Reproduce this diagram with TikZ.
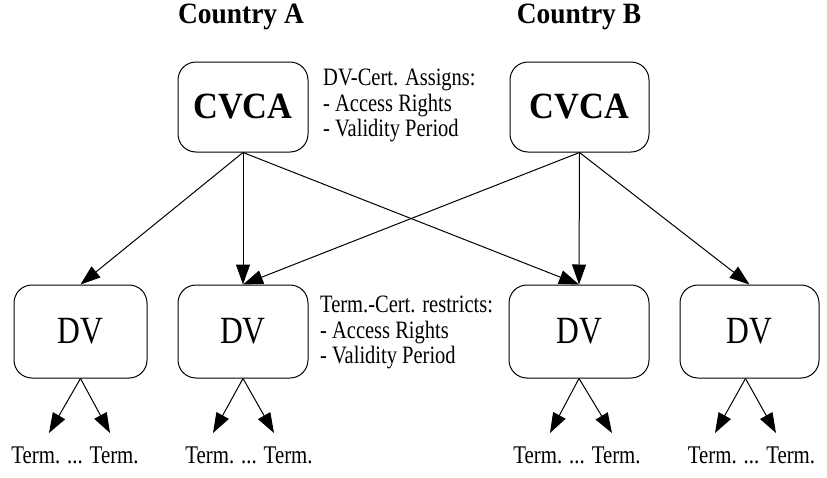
\documentclass[tikz,border=0pt]{standalone}
\usepackage{fontspec}
\setmainfont{Liberation Serif}[FakeStretch=0.82]
\newfontfamily\boldfam{Liberation Serif Bold}[FakeStretch=0.93]
\usetikzlibrary{arrows.meta}
\begin{document}
\begin{tikzpicture}[x=1pt,y=-1pt,
  box/.style={draw,line width=1pt,rounded corners=18pt,inner sep=0pt,minimum height=#1},
  bigbold/.style={font=\boldfam\fontsize{37}{37}\selectfont},
  dvfont/.style={font=\fontsize{38.5}{38.5}\selectfont},
  countryfont/.style={font=\boldfam\fontsize{29.5}{30}\selectfont},
  labelfont/.style={font=\fontsize{25}{25.5}\selectfont},
  termfont/.style={font=\fontsize{25.4}{25.5}\selectfont},
  arr/.style={line width=1pt,-{Triangle[length=20pt,width=14pt]}},
]
\useasboundingbox (0,0) rectangle (827,477);
\fill[white] (0,0) rectangle (827,477);

\node[countryfont,anchor=base] (ctyA) at (241,23) {Country A};
\node[countryfont,anchor=base] (ctyB) at (579,23) {Country B};

\node[box=90pt,minimum width=130pt,bigbold] (cvcaA) at (243,107) {CVCA};
\node[box=90pt,minimum width=139pt,bigbold] (cvcaB) at (579.5,107) {CVCA};

\node[box=93pt,minimum width=133pt,dvfont] (dv1) at (80.5,331.5) {DV};
\node[box=93pt,minimum width=130pt,dvfont] (dv2) at (243,331.5) {DV};
\node[box=93pt,minimum width=140pt,dvfont] (dv3) at (579,331.5) {DV};
\node[box=93pt,minimum width=139pt,dvfont] (dv4) at (749.5,331.5) {DV};

\node[labelfont,anchor=north west,align=left,inner sep=0pt] (lblA) at (323,69) {DV-Cert. Assigns:\\- Access Rights\\- Validity Period};
\node[labelfont,anchor=north west,align=left,inner sep=0pt] (lblB) at (320,296) {Term.-Cert. restricts:\\- Access Rights\\- Validity Period};

\draw[arr] (cvcaA.south) -- (dv1.north);
\draw[arr] (cvcaA.south) -- (dv2.north);
\draw[arr] (cvcaA.south) -- (dv3.north);
\draw[arr] (cvcaB.south) -- (dv2.north);
\draw[arr] (cvcaB.south) -- (dv3.north);
\draw[arr] (cvcaB.south) -- (dv4.north);

\coordinate (t1a) at (49,433);  \coordinate (t1b) at (110,433);
\coordinate (t2a) at (213,433); \coordinate (t2b) at (274,433);
\coordinate (t3a) at (550,433); \coordinate (t3b) at (612,433);
\coordinate (t4a) at (715,433); \coordinate (t4b) at (776,433);

\draw[arr] (dv1.south) -- (t1a);
\draw[arr] (dv1.south) -- (t1b);
\draw[arr] (dv2.south) -- (t2a);
\draw[arr] (dv2.south) -- (t2b);
\draw[arr] (dv3.south) -- (t3a);
\draw[arr] (dv3.south) -- (t3b);
\draw[arr] ([xshift=-4pt]dv4.south) -- (t4a);
\draw[arr] ([xshift=-4pt]dv4.south) -- (t4b);

\node[termfont,anchor=base] (term1) at (75,463.3) {Term. ... Term.};
\node[termfont,anchor=base] (term2) at (249,463.3) {Term. ... Term.};
\node[termfont,anchor=base] (term3) at (577,463.3) {Term. ... Term.};
\node[termfont,anchor=base] (term4) at (751.5,463.3) {Term. ... Term.};
\end{tikzpicture}
\end{document}
